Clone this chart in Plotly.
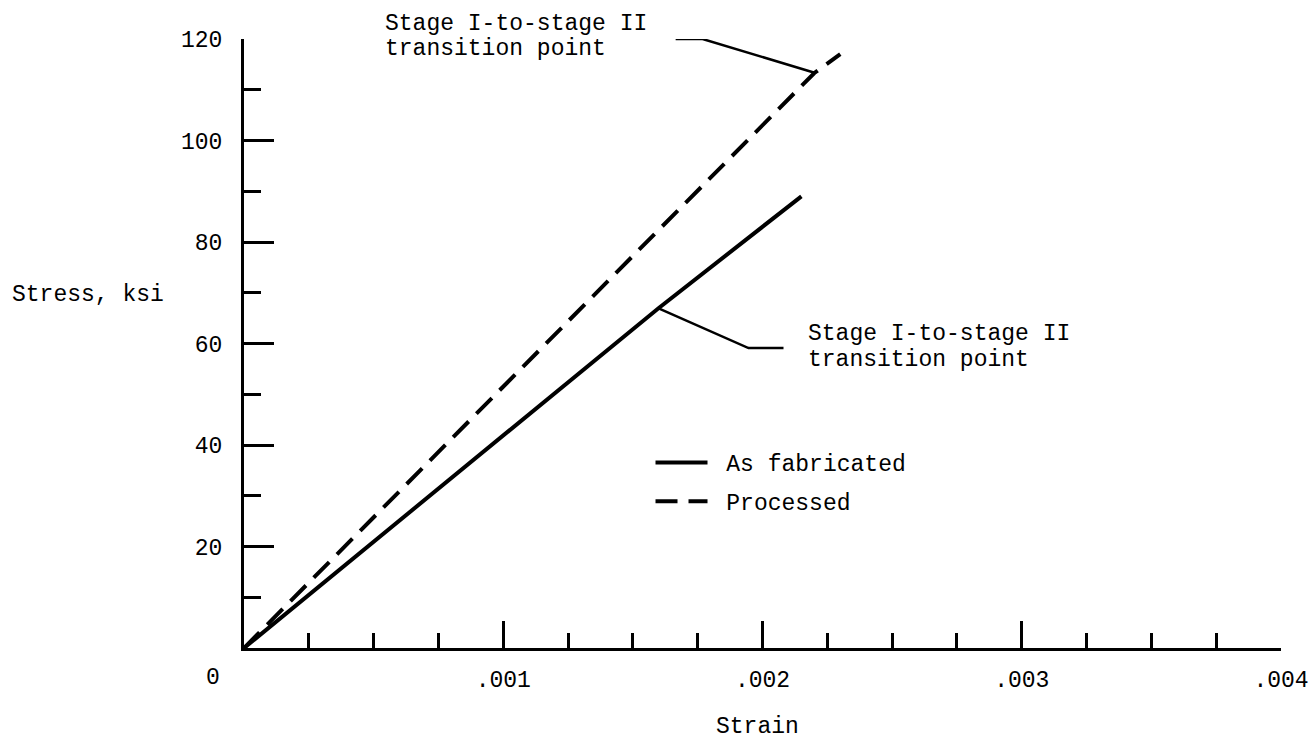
import plotly.graph_objects as go

# ---- data ----
as_fab_strain = [0.0, 0.0016, 0.00215]
as_fab_stress = [0.0, 67.0, 89.0]
proc_strain = [0.0, 0.0022, 0.0023]
proc_stress = [0.0, 113.3, 117.0]

x_tickvals = [0, 0.001, 0.002, 0.003, 0.004]
x_ticktext = ["", ".001", ".002", ".003", ".004"]
y_tickvals = [0, 20, 40, 60, 80, 100, 120]
y_ticktext = ["", "20", "40", "60", "80", "100", "120"]

# leader lines (data coords)
leader_top_x = [0.001665, 0.001769, 0.002204]
leader_top_y = [120.0, 120.0, 113.3]
leader_low_x = [0.001595, 0.001946, 0.002081]
leader_low_y = [67.0, 59.1, 59.1]

FONT = "Liberation Mono"
FS = 23

fig = go.Figure()
fig.add_trace(go.Scatter(x=as_fab_strain, y=as_fab_stress, mode="lines",
                         name="\u00a0As fabricated", legendgroup="a",
                         line=dict(color="black", width=4)))
fig.add_trace(go.Scatter(x=proc_strain, y=proc_stress, mode="lines",
                         name="\u00a0Processed", legendgroup="b",
                         line=dict(color="black", width=4, dash="22px,11px")))
fig.add_trace(go.Scatter(x=leader_top_x, y=leader_top_y, mode="lines",
                         showlegend=False, hoverinfo="skip",
                         line=dict(color="black", width=2.5)))
fig.add_trace(go.Scatter(x=leader_low_x, y=leader_low_y, mode="lines",
                         showlegend=False, hoverinfo="skip",
                         line=dict(color="black", width=2.5)))

axis_common = dict(showgrid=False, zeroline=False, showline=True,
                   linecolor="black", linewidth=3, ticks="inside",
                   tickcolor="black", tickwidth=3, automargin=False,
                   tickfont=dict(family=FONT, size=FS, color="black"),
                   fixedrange=True)

fig.update_xaxes(range=[0, 0.004], tickmode="array", tickvals=x_tickvals,
                 ticktext=x_ticktext, ticklen=27, ticklabelstandoff=8,
                 minor=dict(tickmode="linear", tick0=0, dtick=0.00025,
                            ticks="inside", ticklen=15, tickwidth=3,
                            tickcolor="black"),
                 **axis_common)
fig.update_yaxes(range=[0, 120], tickmode="array", tickvals=y_tickvals,
                 ticktext=y_ticktext, ticklen=30, ticklabelstandoff=14,
                 minor=dict(tickmode="linear", tick0=0, dtick=10,
                            ticks="inside", ticklen=17, tickwidth=3,
                            tickcolor="black"),
                 **axis_common)

ann_font = dict(family=FONT, size=FS, color="black")
annotations = [
    dict(x=0, y=0, xref="x", yref="y", text="0", showarrow=False,
         xshift=-31, yshift=-30, font=ann_font),
    dict(x=0.00197, y=0, xref="x", yref="y", text="Strain", showarrow=False,
         xshift=3, yshift=-79, font=ann_font),
    dict(x=0, y=69.6, xref="x", yref="y", text="Stress, ksi", showarrow=False,
         xanchor="left", xshift=-234, font=ann_font),
    dict(x=0.000536, y=120, xref="x", yref="y", text="Stage I-to-stage II",
         showarrow=False, xanchor="left", yshift=15, font=ann_font),
    dict(x=0.000536, y=120, xref="x", yref="y", text="transition point",
         showarrow=False, xanchor="left", yshift=-10, font=ann_font),
    dict(x=0.002166, y=61.9, xref="x", yref="y", text="Stage I-to-stage II",
         showarrow=False, xanchor="left", font=ann_font),
    dict(x=0.002166, y=56.8, xref="x", yref="y", text="transition point",
         showarrow=False, xanchor="left", font=ann_font),
]

fig.update_layout(
    width=1311, height=739,
    margin=dict(l=244, r=30, t=39, b=91),
    plot_bgcolor="white", paper_bgcolor="white",
    font=dict(family=FONT, size=FS, color="black"),
    annotations=annotations,
    showlegend=True,
    legend=dict(x=0.392, y=0.34, xanchor="left", yanchor="top",
                font=dict(family=FONT, size=FS, color="black"),
                bgcolor="rgba(0,0,0,0)", itemwidth=52,
                traceorder="grouped", tracegroupgap=6),
)

fig.write_html("out.html")
